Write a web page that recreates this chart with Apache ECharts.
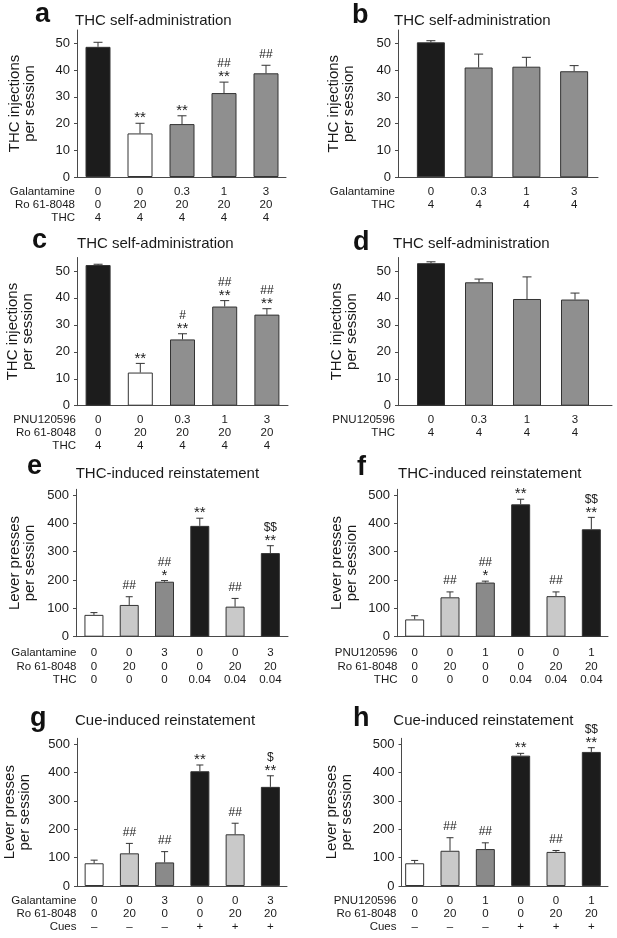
<!DOCTYPE html>
<html><head><meta charset="utf-8">
<script src="https://cdn.jsdelivr.net/npm/echarts@6/dist/echarts.min.js"></script>
<style>html,body{margin:0;padding:0;background:#fff}#c{width:617px;height:938px}</style>
</head><body><div id="c"></div>
<script>
// ---------- DATA ----------
// Panel a
const aGalantamine = ['0','0','0.3','1','3'];
const aRo = ['0','20','20','20','20'];
const aTHC = ['4','4','4','4','4'];
const aMean = [48.7, 16.3, 19.8, 31.4, 38.8];
const aErr = [1.7, 3.8, 3.1, 4.1, 3.0];
const aSig = ['', '**', '**', '##\n**', '##'];
const aRowNames = ['Galantamine', 'Ro 61-8048', 'THC'];
// Panel b
const bGalantamine = ['0','0.3','1','3'];
const bTHC = ['4','4','4','4'];
const bMean = [50.4, 41.0, 41.3, 39.6];
const bErr = [0.6, 5.0, 3.5, 2.1];
const bSig = ['', '', '', ''];
const bRowNames = ['Galantamine', 'THC'];
// Panel c
const cPNU = ['0','0','0.3','1','3'];
const cRo = ['0','20','20','20','20'];
const cTHC = ['4','4','4','4','4'];
const cMean = [52.2, 12.3, 24.6, 36.8, 33.8];
const cErr = [0.3, 3.4, 2.1, 2.2, 2.2];
const cSig = ['', '**', '#\n**', '##\n**', '##\n**'];
const cRowNames = ['PNU120596', 'Ro 61-8048', 'THC'];
// Panel d
const dPNU = ['0','0.3','1','3'];
const dTHC = ['4','4','4','4'];
const dMean = [52.9, 45.8, 39.6, 39.4];
const dErr = [0.5, 1.2, 8.2, 2.4];
const dSig = ['', '', '', ''];
const dRowNames = ['PNU120596', 'THC'];
// Panel e
const eGalantamine = ['0','0','3','0','0','3'];
const eRo = ['0','20','0','0','20','20'];
const eTHC = ['0','0','0','0.04','0.04','0.04'];
const eMean = [77, 112, 194, 391, 106, 295];
const eErr = [8, 29, 4, 27, 29, 26];
const eSig = ['', '##', '##\n*', '**', '##', '$$\n**'];
const eRowNames = ['Galantamine', 'Ro 61-8048', 'THC'];
// Panel f
const fPNU = ['0','0','1','0','0','1'];
const fRo = ['0','20','0','0','20','20'];
const fTHC = ['0','0','0','0.04','0.04','0.04'];
const fMean = [61, 139, 191, 467, 143, 379];
const fErr = [13, 19, 5, 18, 15, 42];
const fSig = ['', '##', '##\n*', '**', '##', '$$\n**'];
const fRowNames = ['PNU120596', 'Ro 61-8048', 'THC'];
// Panel g
const gGalantamine = ['0','0','3','0','0','3'];
const gRo = ['0','20','0','0','20','20'];
const gCues = ['\u2013','\u2013','\u2013','+','+','+'];
const gMean = [80, 115, 83, 404, 182, 349];
const gErr = [11, 35, 38, 22, 39, 39];
const gSig = ['', '##', '##', '**', '##', '$\n**'];
const gRowNames = ['Galantamine', 'Ro 61-8048', 'Cues'];
// Panel h
const hPNU = ['0','0','1','0','0','1'];
const hRo = ['0','20','0','0','20','20'];
const hCues = ['\u2013','\u2013','\u2013','+','+','+'];
const hMean = [80, 124, 130, 459, 120, 472];
const hErr = [10, 46, 22, 8, 5, 15];
const hSig = ['', '##', '##', '**', '##', '$$\n**'];
const hRowNames = ['PNU120596', 'Ro 61-8048', 'Cues'];

const titleSA = 'THC self-administration';
const titleTHCR = 'THC-induced reinstatement';
const titleCue = 'Cue-induced reinstatement';
const yNameInj = 'THC injections\nper session';
const yNameLever = 'Lever presses\nper session';
const ticksSA = [0, 10, 20, 30, 40, 50];
const ticksRe = [0, 100, 200, 300, 400, 500];

const panels = [
  {id:'a', title:titleSA, yName:yNameInj, rows:[aGalantamine,aRo,aTHC], rowNames:aRowNames, mean:aMean, err:aErr, sig:aSig, ticks:ticksSA},
  {id:'b', title:titleSA, yName:yNameInj, rows:[bGalantamine,bTHC], rowNames:bRowNames, mean:bMean, err:bErr, sig:bSig, ticks:ticksSA},
  {id:'c', title:titleSA, yName:yNameInj, rows:[cPNU,cRo,cTHC], rowNames:cRowNames, mean:cMean, err:cErr, sig:cSig, ticks:ticksSA},
  {id:'d', title:titleSA, yName:yNameInj, rows:[dPNU,dTHC], rowNames:dRowNames, mean:dMean, err:dErr, sig:dSig, ticks:ticksSA},
  {id:'e', title:titleTHCR, yName:yNameLever, rows:[eGalantamine,eRo,eTHC], rowNames:eRowNames, mean:eMean, err:eErr, sig:eSig, ticks:ticksRe},
  {id:'f', title:titleTHCR, yName:yNameLever, rows:[fPNU,fRo,fTHC], rowNames:fRowNames, mean:fMean, err:fErr, sig:fSig, ticks:ticksRe},
  {id:'g', title:titleCue, yName:yNameLever, rows:[gGalantamine,gRo,gCues], rowNames:gRowNames, mean:gMean, err:gErr, sig:gSig, ticks:ticksRe},
  {id:'h', title:titleCue, yName:yNameLever, rows:[hPNU,hRo,hCues], rowNames:hRowNames, mean:hMean, err:hErr, sig:hSig, ticks:ticksRe}
];

// ---------- STYLE / LAYOUT ----------
const K = '#1c1c1c', W = '#ffffff', G = '#8f8f8f', LG = '#c9c9c9', MG = '#8a8a8a';
const colSA = [K, W, G, G, G];
const colSA4 = [K, G, G, G];
const colRe = [W, LG, MG, K, LG, K];
// frame: [axisLeft, axisRight, top, bottom]; bars: [left, right]
const layout = {
  a:{frame:[77,286,30,177], bars:[77,287], yMax:55, nameGap:40, barW:25, cap:9, rowX:75, lh:13, lm:8, letter:[35,15], tpos:[75,21.2], colors:colSA},
  b:{frame:[398,598,30,177.3], bars:[407,598], yMax:55, nameGap:42, barW:28, cap:9, rowX:395, lh:13, lm:8, letter:[352,15.3], tpos:[394,21.2], colors:colSA4},
  c:{frame:[77,288,257.5,405.7], bars:[77,288], yMax:55, nameGap:42, barW:25, cap:9, rowX:76, lh:13, lm:8, letter:[32,241], tpos:[77,243.5], colors:colSA},
  d:{frame:[398,612,257.5,405.7], bars:[407,599], yMax:55, nameGap:39, barW:28, cap:9, rowX:395, lh:13, lm:8, letter:[353,242.7], tpos:[393,243.5], colors:colSA4},
  e:{frame:[76,288,489.3,636.7], bars:[76.3,288], yMax:520, nameGap:39, barW:19, cap:7, rowX:76.5, lh:13.8, lm:9, letter:[27,467], tpos:[75.7,474], colors:colRe},
  f:{frame:[397,608,489.3,636.7], bars:[397,609], yMax:520, nameGap:38, barW:19, cap:7, rowX:397.5, lh:13.8, lm:9, letter:[357,468], tpos:[398,474], colors:colRe},
  g:{frame:[77,287,738.3,886], bars:[76.5,288], yMax:520, nameGap:45, barW:19, cap:7, rowX:76.5, lh:13, lm:8, letter:[30,718.7], tpos:[75,720.9], colors:colRe},
  h:{frame:[401.5,608,738.3,886], bars:[397,609], yMax:520, nameGap:47, barW:19, cap:7, rowX:396.5, lh:13, lm:8, letter:[353,718.7], tpos:[393.3,720.9], colors:colRe}
};
const FONT = '"Liberation Sans", Arial, Helvetica, sans-serif';
const TXT = '#1a1a1a';
const AX = '#4a4a4a';

function sigTexts(s, x, errTopY) {
  // one text element per line, laid from the bottom upward
  const lines = s.split('\n');
  const out = [];
  let y = null;
  for (let j = lines.length - 1; j >= 0; j--) {
    const ln = lines[j];
    const star = ln.charAt(0) === '*';
    if (y === null) y = errTopY + (star ? -5 : -11);
    else y -= 13;
    out.push({type:'text', x:x, y:y,
      style:{text:ln, fill:TXT, font:(star ? '15px ' : '12px ') + FONT,
        align:'center', verticalAlign:'middle', textAlign:'center', textVerticalAlign:'middle'}});
  }
  return out;
}

const option = {animation:false, backgroundColor:'#fff', grid:[], xAxis:[], yAxis:[], series:[], graphic:[]};

panels.forEach((p, k) => {
  const L = layout[p.id];
  const [fl, fr, ft, fb] = L.frame;
  const gi = 2 * k, bi = 2 * k + 1;
  const step = p.ticks[1] - p.ticks[0];
  option.grid.push({left:fl, top:ft, width:fr - fl, height:fb - ft, containLabel:false, outerBoundsMode:'none'});
  option.grid.push({left:L.bars[0], top:ft, width:L.bars[1] - L.bars[0], height:fb - ft, containLabel:false, outerBoundsMode:'none'});
  // frame axes
  option.xAxis.push({gridIndex:gi, type:'value', min:0, max:1,
    axisLine:{show:true, onZero:false, lineStyle:{color:AX, width:1}},
    axisTick:{show:false}, axisLabel:{show:false}, splitLine:{show:false}});
  option.yAxis.push({gridIndex:gi, type:'value', min:0, max:L.yMax, interval:step,
    axisLine:{show:true, onZero:false, lineStyle:{color:AX, width:1}},
    axisTick:{show:true, length:3, customValues:p.ticks, lineStyle:{color:AX}},
    axisLabel:{customValues:p.ticks, fontSize:13, fontFamily:FONT, color:TXT, margin:7,
      formatter:(v) => (v % step === 0 ? String(v) : '')},
    splitLine:{show:false},
    name:p.yName, nameLocation:'middle', nameGap:L.nameGap, nameRotate:90, nameMoveOverlap:false,
    nameTextStyle:{fontSize:15, lineHeight:15, fontFamily:FONT, color:TXT}});
  // bar axes
  const cats = p.rows[0].map((_, i) => p.rows.map(r => r[i]).join('\n'));
  option.xAxis.push({gridIndex:bi, type:'category', data:cats,
    axisLine:{show:false}, axisTick:{show:false}, splitLine:{show:false},
    axisLabel:{interval:0, fontSize:11.5, lineHeight:L.lh, margin:L.lm, fontFamily:FONT, color:TXT}});
  option.yAxis.push({gridIndex:bi, type:'value', min:0, max:L.yMax, show:false, splitLine:{show:false}});
  option.series.push({type:'bar', xAxisIndex:bi, yAxisIndex:bi, barWidth:L.barW,
    data:p.mean.map((v, i) => ({value:v, itemStyle:{color:L.colors[i], borderColor:'#333', borderWidth:1}}))});
  const sig = p.sig;
  option.series.push({type:'custom', xAxisIndex:bi, yAxisIndex:bi, z:5,
    data:p.mean.map((v, i) => [i, v, v + p.err[i]]),
    renderItem:(params, api) => {
      const i = api.value(0);
      const base = api.coord([i, api.value(1)]);
      const top = api.coord([i, api.value(2)]);
      const s = sig[params.dataIndex];
      const hw = L.cap / 2;
      let children = [
        {type:'line', shape:{x1:top[0], y1:base[1], x2:top[0], y2:top[1]}, style:{stroke:'#333', lineWidth:1}},
        {type:'line', shape:{x1:top[0]-hw, y1:top[1], x2:top[0]+hw, y2:top[1]}, style:{stroke:'#333', lineWidth:1}}
      ];
      if (s) children = children.concat(sigTexts(s, top[0], top[1]));
      return {type:'group', children};
    }});
  // row names
  option.graphic.push({type:'text', x:L.rowX, y:fb + L.lm,
    style:{text:p.rowNames.join('\n'), fill:TXT, font:'11.5px ' + FONT, lineHeight:L.lh,
      align:'right', verticalAlign:'top', textAlign:'right', textVerticalAlign:'top'}});
  // panel letter & title
  option.graphic.push({type:'text', x:L.letter[0], y:L.letter[1],
    style:{text:p.id, fill:'#111', font:'bold 27px ' + FONT, align:'left', verticalAlign:'middle', textAlign:'left', textVerticalAlign:'middle'}});
  option.graphic.push({type:'text', x:L.tpos[0], y:L.tpos[1],
    style:{text:p.title, fill:TXT, font:'15px ' + FONT, align:'left', verticalAlign:'middle', textAlign:'left', textVerticalAlign:'middle'}});
});

const chart = echarts.init(document.getElementById('c'), null, {renderer:'canvas'});
chart.setOption(option);
</script></body></html>
